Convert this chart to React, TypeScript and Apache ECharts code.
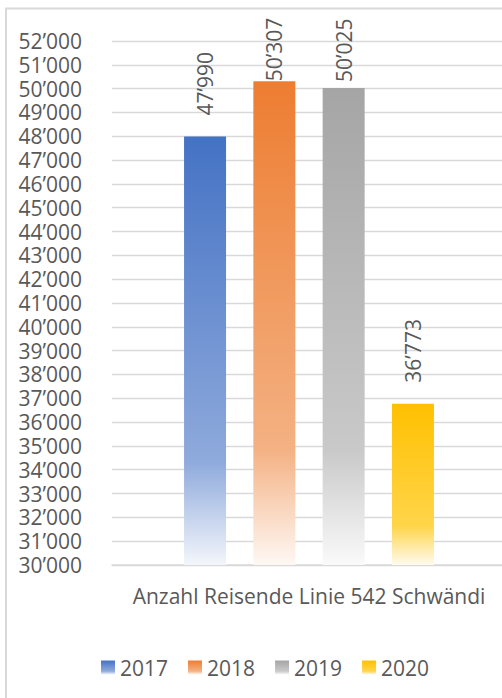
import React, { useEffect, useRef } from "react";
import * as echarts from "echarts";

const categories = ["Anzahl Reisende Linie 542 Schwändi"];
const years = ["2017", "2018", "2019", "2020"];
const values = [47990, 50307, 50025, 36773];
const yMin = 30000;
const yMax = 52000;
const yStep = 1000;

const palette = [
  { top: "#4472C4", mid: "#8FAADC", bottom: "#F3F6FB" },
  { top: "#ED7D31", mid: "#F4B183", bottom: "#FEF8F4" },
  { top: "#A5A5A5", mid: "#C9C9C9", bottom: "#FAFAFA" },
  { top: "#FFC000", mid: "#FFD54A", bottom: "#FFFBF0" },
];
const labelDistances = [21, 0, 6, 21];

const fmt = (v: number) => {
  const t = Math.floor(v / 1000);
  const r = String(Math.round(v % 1000)).padStart(3, "0");
  return `${t}\u2019${r}`;
};

const FONT = "Open Sans";
const TEXT = "#595959";

export default function App() {
  const ref = useRef<HTMLDivElement>(null);
  useEffect(() => {
    if (!ref.current) return;
    const chart = echarts.init(ref.current, null, { renderer: "svg" });
    chart.setOption({
      animation: false,
      backgroundColor: "#ffffff",
      textStyle: { fontFamily: FONT },
      graphic: [
        {
          type: "rect",
          shape: { x: 6, y: 8.5, width: 700, height: 900 },
          style: { fill: "none", stroke: "#d9d9d9", lineWidth: 2 },
          z: 100,
        },
      ],
      grid: { left: 112, right: 4, top: 41, bottom: 133, containLabel: false },
      legend: {
        left: 96,
        top: 652,
        itemWidth: 14,
        itemHeight: 14,
        itemGap: 20,
        icon: "rect",
        textStyle: { fontSize: 21, color: TEXT, fontFamily: FONT },
        data: years,
      },
      xAxis: {
        type: "category",
        data: categories,
        axisLine: { show: true, lineStyle: { color: "#d9d9d9", width: 1.5 } },
        axisTick: { show: false },
        axisLabel: { fontSize: 21, color: TEXT, fontFamily: FONT, margin: 20 },
      },
      yAxis: {
        type: "value",
        min: yMin,
        max: yMax,
        interval: yStep,
        axisLine: { show: false },
        axisTick: { show: false },
        splitLine: { lineStyle: { color: "#d9d9d9", width: 1.3 } },
        axisLabel: {
          fontSize: 21,
          lineHeight: 21,
          color: TEXT,
          fontFamily: FONT,
          margin: 30,
          formatter: (v: number) => fmt(v),
        },
      },
      series: years.map((y, i) => ({
        name: y,
        type: "bar",
        barWidth: 42,
        barGap: "65%",
        itemStyle: {
          color: new echarts.graphic.LinearGradient(0, 0, 0, 1, [
            { offset: 0, color: palette[i].top },
            { offset: 0.76, color: palette[i].mid },
            { offset: 1, color: palette[i].bottom },
          ]),
        },
        label: {
          show: true,
          position: "top",
          rotate: 90,
          align: "left",
          verticalAlign: "middle",
          distance: labelDistances[i],
          fontSize: 21,
          lineHeight: 21,
          color: TEXT,
          fontFamily: FONT,
          formatter: (p: any) => fmt(p.value),
        },
        data: [values[i]],
      })),
    });
    return () => chart.dispose();
  }, []);
  return (
    <div
      style={{
        position: "fixed",
        left: 0,
        top: 0,
        width: 502,
        height: 698,
        overflow: "hidden",
        background: "#fff",
      }}
    >
      <div ref={ref} style={{ width: 510, height: 698 }} />
    </div>
  );
}
